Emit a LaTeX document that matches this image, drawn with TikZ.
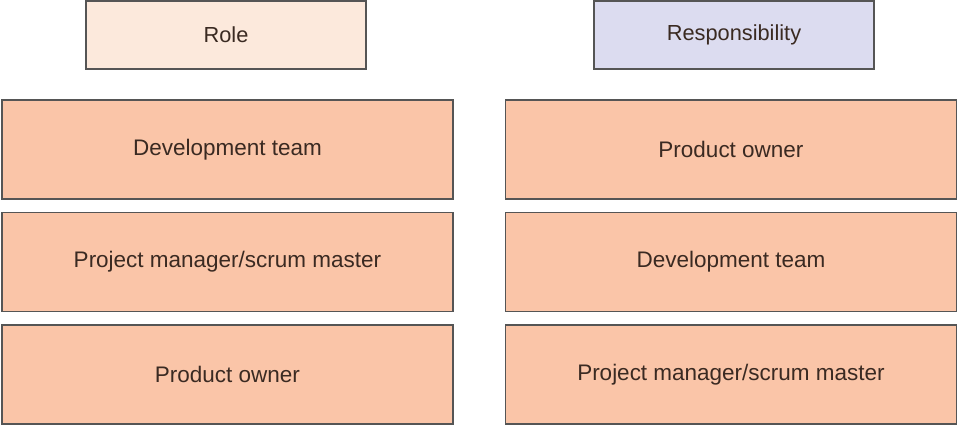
\documentclass[tikz,border=0pt]{standalone}
\usepackage{fontspec}
\setmainfont{Liberation Sans}
\definecolor{roleFill}{HTML}{FCE9DC}
\definecolor{respFill}{HTML}{DCDCF0}
\definecolor{cellFill}{HTML}{FAC5A8}
\definecolor{edgeGray}{HTML}{555555}
\definecolor{textBrown}{HTML}{3A2A22}
\tikzset{
  headbox/.style={draw=edgeGray,line width=0.035cm,minimum width=7cm,minimum height=1.7cm,
    text=textBrown,font=\fontsize{15.5}{18}\selectfont},
  cellbox/.style={draw=edgeGray,fill=cellFill,line width=0.035cm,minimum width=11.27cm,
    minimum height=2.475cm,text=textBrown,font=\fontsize{16}{19}\selectfont}
}
\begin{document}
\begin{tikzpicture}
    \useasboundingbox (0,0) rectangle (23.975,10.7);
    \node[headbox,fill=roleFill] (role) at (5.65, 9.825){Role};
    \node[headbox,fill=respFill] (resp) at (18.35, 9.825){Responsibility};
    \node[cellbox] (ldev) at (5.6875, 6.96){Development team};
    \node[cellbox] (lpm) at (5.6875, 4.15){Project manager/scrum master};
    \node[cellbox] (lpo) at (5.6875, 1.3375){Product owner};
    \node[cellbox] (rpo) at (18.275, 6.96){Product owner};
    \node[cellbox] (rdev) at (18.275, 4.15){Development team};
    \node[cellbox] (rpm) at (18.275, 1.3375){Project manager/scrum master};
  \end{tikzpicture}
\end{document}
